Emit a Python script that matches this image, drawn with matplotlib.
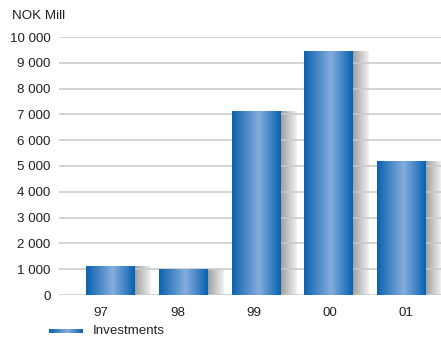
import numpy as np
import matplotlib
matplotlib.use("Agg")
import matplotlib.pyplot as plt
from matplotlib.colors import LinearSegmentedColormap

plt.rcParams['font.family'] = ['Liberation Sans', 'DejaVu Sans']

# Investments, NOK million
years = ["97", "98", "99", "00", "01"]
investments = [1120, 1000, 7120, 9440, 5160]
yticks = [0, 1000, 2000, 3000, 4000, 5000, 6000, 7000, 8000, 9000, 10000]
series_name = "Investments"
unit_label = "NOK Mill"

text_col = "#222222"
grid_col = "#c8c8c8"
fs = 9.6

bar_cmap = LinearSegmentedColormap.from_list(
    "barblue", [(0.0, "#0a62ae"), (0.55, "#86addd"), (1.0, "#0562b0")])
shade_cmap = LinearSegmentedColormap.from_list(
    "shade", [(0.0, "#9a9a9a"), (1.0, "#f2f2f2")])
grad = np.linspace(0, 1, 256).reshape(1, -1)

fig = plt.figure(figsize=(4.41, 3.38), dpi=100)
ax = fig.add_axes([59 / 441, 1 - 295 / 338, 1 - 59 / 441, (295 - 37) / 338])

bar_w = 0.66
shade_w = 0.22
x = np.arange(len(years))

for xi, v in zip(x, investments):
    left = xi - bar_w / 2
    # grey drop shade to the right of each bar
    ax.imshow(grad, cmap=shade_cmap, aspect="auto", interpolation="bilinear",
              extent=(left + bar_w, left + bar_w + shade_w, 0, v), zorder=0.5)
    # bar body with horizontal gradient
    ax.imshow(grad, cmap=bar_cmap, aspect="auto", interpolation="bilinear",
              extent=(left, left + bar_w, 0, v), zorder=2)

ax.set_xlim(-0.70, 4.547)
ax.set_ylim(0, 10000)

for yv in yticks:
    ax.axhline(yv, color=grid_col, lw=1.1, zorder=1)

ax.set_yticks(yticks)
ax.set_yticklabels([f"{v:,}".replace(",", " ") for v in yticks])
label_pos = x * 1.047 - 0.12
ax.set_xticks(label_pos)
ax.set_xticklabels(years)
ax.tick_params(axis="both", length=0, labelsize=fs, colors=text_col)
ax.tick_params(axis="y", pad=6)
ax.tick_params(axis="x", pad=9)
for s in ax.spines.values():
    s.set_visible(False)

fig.text(12 / 441, 1 - 16 / 338, unit_label, fontsize=fs, color=text_col,
         ha="left", va="center")

# legend swatch
lax = fig.add_axes([49 / 441, 1 - 333.5 / 338, 34 / 441, 4.5 / 338])
lax.imshow(grad, cmap=bar_cmap, aspect="auto", interpolation="bilinear")
lax.axis("off")
fig.text(93 / 441, 1 - 331 / 338, series_name, fontsize=fs, color=text_col,
         ha="left", va="center")

fig.savefig("out.png", dpi=100)
